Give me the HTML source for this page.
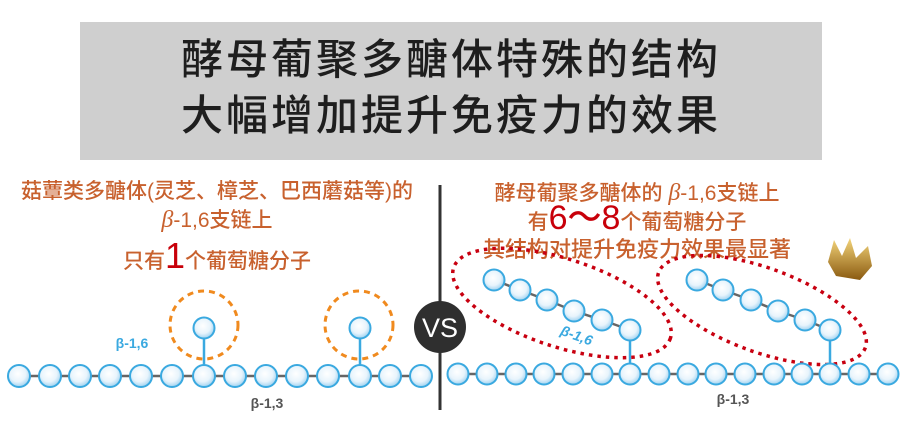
<!DOCTYPE html>
<html><head><meta charset="utf-8"><style>
body{margin:0;width:900px;height:430px;background:#fff;overflow:hidden;position:relative;font-family:"Liberation Sans","Noto Sans CJK SC",sans-serif}
.t{position:absolute;white-space:nowrap;text-align:center;color:#c8612e;font-weight:500}
</style></head><body>
<div style="position:absolute;left:80px;top:22px;width:742px;height:138px;background:#cfcfcf"></div>
<div class="t" style="left:80px;width:742px;top:32px;font-size:42px;line-height:56px;color:#1e1e1e;letter-spacing:3px">酵母葡聚多醣体特殊的结构<br>大幅增加提升免疫力的效果</div>
<div class="t" style="left:0;width:434px;top:177px;font-size:21px;line-height:29px">菇蕈类多醣体(灵芝、樟芝、巴西蘑菇等)的<br><i style="font-family:'Liberation Serif',serif;font-size:24px">β</i>-1,6支链上</div>
<div class="t" style="left:0;width:434px;top:238px;font-size:21px;line-height:36px">只有<span style="color:#c8000a;font-size:36px">1</span>个葡萄糖分子</div>
<div class="t" style="left:440px;width:394px;top:180px;font-size:21px;line-height:26px">酵母葡聚多醣体的 <i style="font-family:'Liberation Serif',serif;font-size:24px">β</i>-1,6支链上</div>
<div class="t" style="left:440px;width:394px;top:200px;font-size:21px;line-height:36px">有<span style="color:#c8000a;font-size:34px">6～8</span>个葡萄糖分子</div>
<div class="t" style="left:440px;width:394px;top:237px;font-size:22px;line-height:26px">其结构对提升免疫力效果最显著</div>
<svg width="900" height="430" style="position:absolute;left:0;top:0">
<defs><radialGradient id="g" cx="0.45" cy="0.4" r="0.6"><stop offset="0" stop-color="#fff"/><stop offset="0.6" stop-color="#e8f4fc"/><stop offset="1" stop-color="#9fd2f0"/></radialGradient>
<linearGradient id="cr" x1="0" y1="0" x2="0" y2="1"><stop offset="0" stop-color="#f3d47a"/><stop offset="1" stop-color="#8a5a10"/></linearGradient></defs>
<line x1="440" y1="185" x2="440" y2="410" stroke="#333" stroke-width="3"/>
<g stroke="#666" stroke-width="2.5">
<line x1="19" y1="376" x2="421" y2="376"/><line x1="458" y1="374" x2="888" y2="374"/>
<polyline fill="none" points="494,280 520,290 547,300 574,311 602,320 630,330"/>
<polyline fill="none" points="697,280 723,290 751,300 778,311 805,320 830,330"/>
</g>
<g stroke="#3aa9e0" stroke-width="2.5"><line x1="204" y1="328" x2="204" y2="376"/><line x1="360" y1="328" x2="360" y2="376"/><line x1="630" y1="330" x2="630" y2="374"/><line x1="830" y1="330" x2="830" y2="374"/></g>
<g fill="none" stroke="#f08a1e" stroke-width="3" stroke-dasharray="6,5"><circle cx="204" cy="325" r="34"/><circle cx="359" cy="325" r="34"/></g>
<g fill="none" stroke="#c80010" stroke-width="3.5" stroke-dasharray="3.5,5"><ellipse cx="562" cy="303" rx="114" ry="44" transform="rotate(18 562 303)"/><ellipse cx="762" cy="310" rx="110" ry="42" transform="rotate(20 762 310)"/></g>
<g fill="url(#g)" stroke="#3aa9e0" stroke-width="2">
<circle cx="19" cy="376" r="11"/><circle cx="50" cy="376" r="11"/><circle cx="80" cy="376" r="11"/><circle cx="110" cy="376" r="11"/><circle cx="141" cy="376" r="11"/><circle cx="172" cy="376" r="11"/><circle cx="204" cy="376" r="11"/><circle cx="235" cy="376" r="11"/><circle cx="266" cy="376" r="11"/><circle cx="297" cy="376" r="11"/><circle cx="328" cy="376" r="11"/><circle cx="360" cy="376" r="11"/><circle cx="390" cy="376" r="11"/><circle cx="421" cy="376" r="11"/>
<circle cx="204" cy="328" r="10.5"/><circle cx="360" cy="328" r="10.5"/>
<circle cx="458" cy="374" r="10.5"/><circle cx="487" cy="374" r="10.5"/><circle cx="516" cy="374" r="10.5"/><circle cx="544" cy="374" r="10.5"/><circle cx="573" cy="374" r="10.5"/><circle cx="602" cy="374" r="10.5"/><circle cx="630" cy="374" r="10.5"/><circle cx="659" cy="374" r="10.5"/><circle cx="688" cy="374" r="10.5"/><circle cx="716" cy="374" r="10.5"/><circle cx="745" cy="374" r="10.5"/><circle cx="774" cy="374" r="10.5"/><circle cx="802" cy="374" r="10.5"/><circle cx="830" cy="374" r="10.5"/><circle cx="859" cy="374" r="10.5"/><circle cx="888" cy="374" r="10.5"/>
<circle cx="494" cy="280" r="10.5"/><circle cx="520" cy="290" r="10.5"/><circle cx="547" cy="300" r="10.5"/><circle cx="574" cy="311" r="10.5"/><circle cx="602" cy="320" r="10.5"/><circle cx="630" cy="330" r="10.5"/>
<circle cx="697" cy="280" r="10.5"/><circle cx="723" cy="290" r="10.5"/><circle cx="751" cy="300" r="10.5"/><circle cx="778" cy="311" r="10.5"/><circle cx="805" cy="320" r="10.5"/><circle cx="830" cy="330" r="10.5"/>
</g>
<circle cx="440" cy="327" r="26" fill="#2f2f2f"/>
<text x="440" y="337" text-anchor="middle" fill="#fff" font-size="27" font-family="Liberation Sans,sans-serif">VS</text>
<text x="132" y="348" text-anchor="middle" fill="#3aa9e0" font-size="14" font-weight="bold" font-family="Liberation Sans,sans-serif">β-1,6</text>
<text x="267" y="408" text-anchor="middle" fill="#555" font-size="14" font-weight="bold" font-family="Liberation Sans,sans-serif">β-1,3</text>
<text x="733" y="404" text-anchor="middle" fill="#555" font-size="14" font-weight="bold" font-family="Liberation Sans,sans-serif">β-1,3</text>
<text x="575" y="340" text-anchor="middle" fill="#3aa9e0" font-size="14" font-weight="bold" font-style="italic" font-family="Liberation Sans,sans-serif" transform="rotate(20 575 340)">β-1,6</text>
<polygon points="828,262 834,240 842,256 850,238 856,258 868,246 872,266 860,280 836,276" fill="url(#cr)"/>
</svg>
</body></html>
